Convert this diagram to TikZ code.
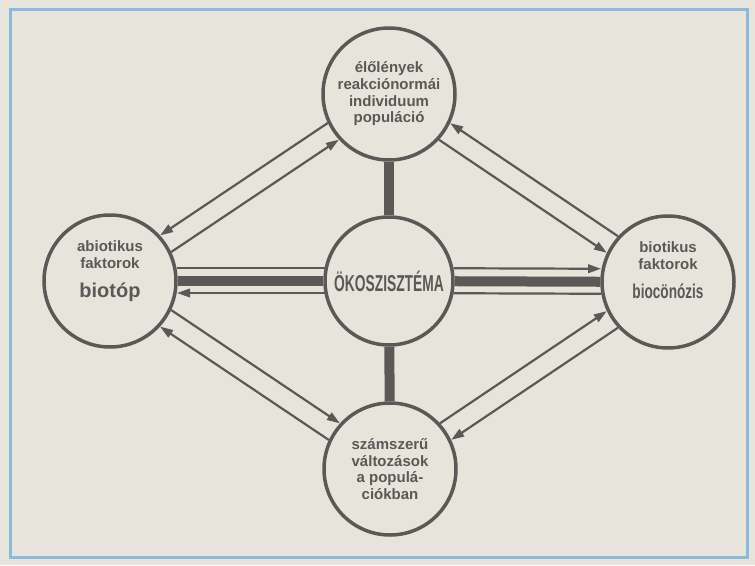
\documentclass[tikz,border=0pt]{standalone}
\usepackage{fontspec}
\setmainfont{Liberation Sans}
\newfontfamily\condfont[FakeStretch=0.6]{Liberation Sans}
\newfontfamily\narrowfont[FakeStretch=0.68]{Liberation Sans}
\usepackage{tikz}
\usetikzlibrary{arrows.meta,calc}

\definecolor{paper}{HTML}{E7E5DB}
\definecolor{ink}{HTML}{5C5857}
\definecolor{frameblue}{HTML}{8DB9DE}

\begin{document}
\begin{tikzpicture}[x=1pt,y=-1pt,>={Triangle[length=13pt,width=8.5pt]}]
  \tikzstyle{topic}=[circle,draw=ink,line width=3.5pt,fill=paper,minimum size=132pt,inner sep=0pt,align=center,text=ink,font=\bfseries\fontsize{15}{16.7}\selectfont]
  \tikzstyle{link}=[draw=ink,line width=2.2pt,shorten <=67pt,shorten >=67pt]
  \tikzstyle{bar}=[draw=ink,line width=10pt]
  \fill[paper] (0,0) rectangle (755,565);
  \useasboundingbox (0,0) rectangle (755,565);
  \draw[frameblue,line width=3pt] (10,9) rectangle (747,557);

  \node[topic] (T) at (389,94) {élőlények\\reakciónormái\\individuum\\populáció};
  \node[topic] (L) at (110,281) {abiotikus\\faktorok\\[13pt]{\fontsize{20}{20}\selectfont biotóp}\\[7pt]~};
  \node[topic] (R) at (668,282) {biotikus\\faktorok\\[13pt]{\narrowfont\bfseries\fontsize{20}{20}\selectfont biocönózis}\\[7pt]~};
  \node[topic] (B) at (390,469) {számszerű\\változások\\a populá-\\ciókban};
  \node[topic,minimum size=128pt] (C) at (389,281) {\condfont\bfseries\fontsize{23}{23}\selectfont ÖKOSZISZTÉMA};

  % vastag tengelyek
  \draw[bar] (T) -- (C);
  \draw[bar] (C) -- (B);
  \draw[bar] (L) -- (C);
  \draw[bar] (C) -- (R);

  % vízszintes kísérővonalak
  \draw[link,shorten >=64.5pt] ($(L)!13pt!90:(C)$) -- ($(C)!13pt!-90:(L)$);
  \draw[link,<-,shorten >=64.5pt] ($(L)!12pt!-90:(C)$) -- ($(C)!12pt!90:(L)$);
  \draw[link,->,shorten <=64.5pt] ($(C)!13pt!90:(R)$) -- ($(R)!13pt!-90:(C)$);
  \draw[link,shorten <=64.5pt] ($(C)!12pt!-90:(R)$) -- ($(R)!12pt!90:(C)$);

  % átlós párok
  \draw[link,<-] ($(L)!10pt!90:(T)$) -- ($(T)!10pt!-90:(L)$);
  \draw[link,->] ($(L)!10pt!-90:(T)$) -- ($(T)!10pt!90:(L)$);
  \draw[link,<-] ($(T)!10pt!90:(R)$) -- ($(R)!10pt!-90:(T)$);
  \draw[link,->] ($(T)!10pt!-90:(R)$) -- ($(R)!10pt!90:(T)$);
  \draw[link,->] ($(R)!10pt!90:(B)$) -- ($(B)!10pt!-90:(R)$);
  \draw[link,<-] ($(R)!10pt!-90:(B)$) -- ($(B)!10pt!90:(R)$);
  \draw[link,->] ($(B)!10pt!90:(L)$) -- ($(L)!10pt!-90:(B)$);
  \draw[link,<-] ($(B)!10pt!-90:(L)$) -- ($(L)!10pt!90:(B)$);
\end{tikzpicture}
\end{document}
